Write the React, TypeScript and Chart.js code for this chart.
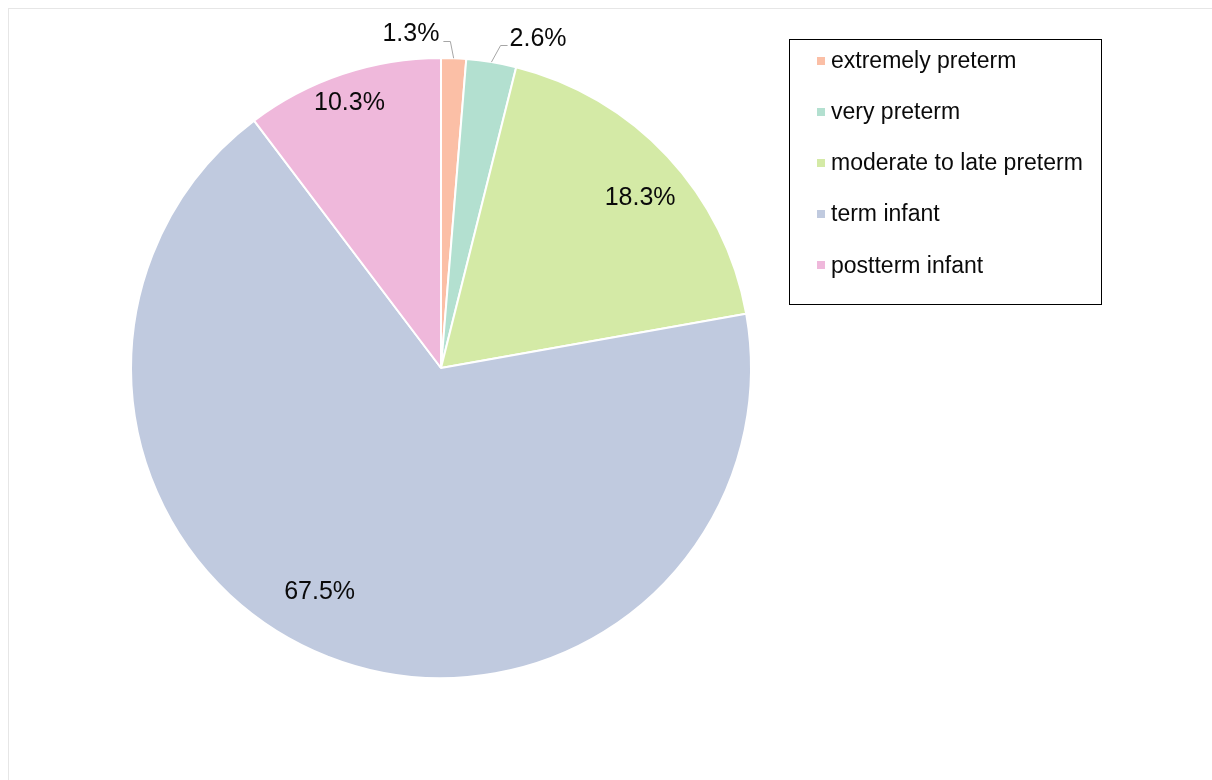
import React, { useEffect, useRef } from "react";
import { Chart, registerables } from "chart.js";

Chart.register(...registerables);

const categories = [
  "extremely preterm",
  "very preterm",
  "moderate to late preterm",
  "term infant",
  "postterm infant",
];
const shares = [1.3, 2.6, 18.3, 67.5, 10.3];
const percentLabels = ["1.3%", "2.6%", "18.3%", "67.5%", "10.3%"];
const sliceColors = ["#FBBFA6", "#B3E0D0", "#D4EAA6", "#C0CADF", "#EFB8DB"];

// label styling: radius as fraction of pie radius, angle shift (deg) from slice middle
const labelPlacement = [
  { r: 1.08, da: -7.5, leader: "left" },
  { r: 1.105, da: 7.1, leader: "right" },
  { r: 0.845, da: 2.5, leader: "" },
  { r: 0.823, da: 7, leader: "" },
  { r: 0.905, da: -0.5, leader: "" },
];

const FONT = '"Liberation Sans", Arial, sans-serif';

const labelsPlugin = {
  id: "pctLabels",
  afterDatasetsDraw(chart: any) {
    const ctx = chart.ctx;
    const meta = chart.getDatasetMeta(0);
    ctx.save();
    ctx.font = `25px ${FONT}`;
    ctx.textAlign = "center";
    ctx.textBaseline = "middle";
    meta.data.forEach((arc: any, i: number) => {
      const { x, y, startAngle, endAngle, outerRadius } = arc.getProps(
        ["x", "y", "startAngle", "endAngle", "outerRadius"],
        true
      );
      const mid = (startAngle + endAngle) / 2;
      const p = labelPlacement[i];
      const a = mid + (p.da * Math.PI) / 180;
      const tx = x + Math.cos(a) * outerRadius * p.r;
      const ty = y + Math.sin(a) * outerRadius * p.r;
      ctx.fillStyle = "#0A0A0A";
      ctx.fillText(percentLabels[i], tx, ty);
      if (p.leader) {
        const w = ctx.measureText(percentLabels[i]).width;
        const ex = x + Math.cos(mid) * outerRadius;
        const ey = y + Math.sin(mid) * outerRadius;
        let hx0: number, hx1: number;
        if (p.leader === "left") {
          hx0 = tx + w / 2 + 4;
          hx1 = hx0 + 7;
        } else {
          hx0 = tx - w / 2 - 2;
          hx1 = hx0 - 7;
        }
        const ly = Math.round(ty + 6) + 0.5;
        ctx.strokeStyle = "#A6A6A6";
        ctx.lineWidth = 1;
        ctx.beginPath();
        ctx.moveTo(hx0, ly);
        ctx.lineTo(hx1, ly);
        ctx.lineTo(ex, ey);
        ctx.stroke();
      }
    });
    ctx.restore();
  },
};

const legendPlugin = {
  id: "boxLegend",
  afterDraw(chart: any) {
    const ctx = chart.ctx;
    ctx.save();
    ctx.strokeStyle = "#000000";
    ctx.lineWidth = 1;
    ctx.strokeRect(780.5, 30.5, 312, 265);
    ctx.font = `23px ${FONT}`;
    ctx.textAlign = "left";
    ctx.textBaseline = "middle";
    const labels = chart.data.labels as string[];
    const colors = chart.data.datasets[0].backgroundColor as string[];
    labels.forEach((lab, i) => {
      const cy = 51.5 + i * 51.2;
      ctx.fillStyle = colors[i];
      ctx.fillRect(808, Math.round(cy - 4), 8, 8);
      ctx.fillStyle = "#0A0A0A";
      ctx.fillText(lab, 822, cy + 1);
    });
    ctx.restore();
  },
};

export default function App() {
  const ref = useRef<HTMLCanvasElement | null>(null);
  useEffect(() => {
    if (!ref.current) return;
    const chart = new Chart(ref.current, {
      type: "pie",
      data: {
        labels: categories,
        datasets: [
          {
            data: shares,
            backgroundColor: sliceColors,
            borderColor: "#FFFFFF",
            borderWidth: 2,
            radius: 310,
          } as any,
        ],
      },
      options: {
        responsive: false,
        animation: false,
        layout: { padding: { left: 112, top: 39, right: 451, bottom: 92 } },
        plugins: {
          legend: { display: false },
          tooltip: { enabled: false },
          title: { display: false },
        },
      },
      plugins: [labelsPlugin, legendPlugin],
    });
    return () => chart.destroy();
  }, []);
  return (
    <div
      style={{
        position: "fixed",
        left: 8,
        top: 8,
        width: 1204,
        height: 772,
        borderTop: "1px solid #E6E6E6",
        borderLeft: "1px solid #E6E6E6",
        background: "#FFFFFF",
        overflow: "hidden",
      }}
    >
      <canvas
        ref={ref}
        width={1203}
        height={771}
        style={{ display: "block", width: 1203, height: 771 }}
      />
    </div>
  );
}
